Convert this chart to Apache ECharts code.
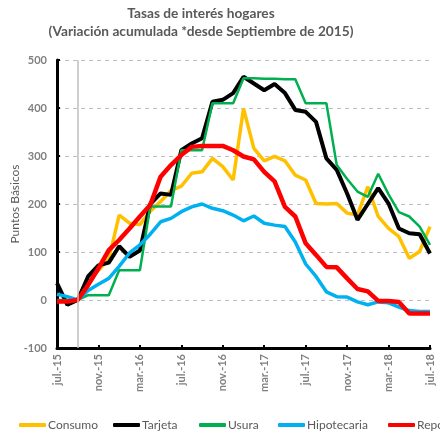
<!DOCTYPE html>
<html>
<head>
<meta charset="utf-8">
<script src="https://cdn.jsdelivr.net/npm/echarts@6/dist/echarts.min.js"></script>
<style>
  html, body { margin: 0; padding: 0; background: #fff; }
  #chart { width: 440px; height: 434px; }
</style>
</head>
<body>
<div id="chart"></div>
<script>
// Monthly, jul-15 .. jul-18 (basis points, accumulated since sep-15)
const months = [
  'jul.-15', 'ago.-15', 'sep.-15', 'oct.-15', 'nov.-15', 'dic.-15',
  'ene.-16', 'feb.-16', 'mar.-16', 'abr.-16', 'may.-16', 'jun.-16',
  'jul.-16', 'ago.-16', 'sep.-16', 'oct.-16', 'nov.-16', 'dic.-16',
  'ene.-17', 'feb.-17', 'mar.-17', 'abr.-17', 'may.-17', 'jun.-17',
  'jul.-17', 'ago.-17', 'sep.-17', 'oct.-17', 'nov.-17', 'dic.-17',
  'ene.-18', 'feb.-18', 'mar.-18', 'abr.-18', 'may.-18', 'jun.-18',
  'jul.-18'
];
const consumo = [-2, -2, 0, 40, 62, 85, 177, 160, 157, 185, 205, 228, 237, 264, 267, 295, 278, 250,
  399, 316, 290, 299, 290, 260, 250, 201, 200, 201, 181, 177, 236, 174, 149, 132, 87, 101, 153];
const tarjeta = [35, -10, 0, 49, 72, 78, 112, 90, 103, 200, 222, 219, 312, 326, 337, 413, 417, 431,
  465, 451, 437, 450, 431, 396, 392, 371, 295, 271, 222, 167, 200, 233, 201, 149, 139, 137, 97];
const usura = [0, 0, 0, 10, 10, 10, 62, 62, 62, 195, 195, 195, 312, 312, 312, 410, 410, 410,
  462, 462, 461, 461, 460, 460, 410, 410, 410, 281, 252, 226, 215, 263, 220, 183, 174, 153, 115];
const hipotecaria = [12, 7, 0, 20, 33, 45, 70, 98, 115, 137, 163, 170, 184, 194, 200, 191, 186, 177,
  165, 175, 160, 156, 153, 121, 75, 49, 17, 7, 6, -4, -10, -4, -6, -15, -22, -24, -24];
const repo = [-3, -3, 0, 31, 66, 104, 125, 149, 174, 198, 257, 281, 302, 319, 321, 321, 321, 312,
  299, 293, 267, 247, 194, 174, 118, 94, 69, 68, 45, 23, 18, -2, -2, -4, -28, -28, -28];

const names = ['Consumo', 'Tarjeta', 'Usura', 'Hipotecaria', 'Repo'];

const FONT = 'Lato, "Open Sans", sans-serif';
const GREY = '#595959';

const line = (name, data, color, width) => ({
  name, type: 'line', data, symbol: 'none', smooth: false,
  lineStyle: { color, width }, itemStyle: { color },
  emphasis: { disabled: true }
});

const series = [
  line(names[0], consumo, '#FFC000', 3.5),
  line(names[1], tarjeta, '#000000', 4),
  line(names[2], usura, '#00B050', 2.5),
  line(names[3], hipotecaria, '#00B0F0', 3.5),
  line(names[4], repo, '#FF0000', 4.5)
];
// reference month (sep-15) marker
series[0].markLine = {
  silent: true, symbol: 'none', label: { show: false },
  lineStyle: { color: '#bfbfbf', width: 1.5, type: 'solid' },
  data: [{ xAxis: 'sep.-15' }]
};

// one legend per item so the row can run off the right edge like the original
const legendLeft = [14, 108, 194, 273, 383];
const legend = names.map((n, i) => ({
  top: 414, left: legendLeft[i], icon: 'roundRect', itemWidth: 27, itemHeight: 4,
  textStyle: { fontFamily: FONT, fontSize: 12, color: GREY, padding: [0, 0, 0, -3] },
  data: [n]
}));

const chart = echarts.init(document.getElementById('chart'), null, { renderer: 'canvas' });
chart.setOption({
  animation: false,
  graphic: [
    { type: 'text', x: 201, y: 14, style: { text: 'Tasas de interés hogares', textAlign: 'center', textVerticalAlign: 'middle',
      fontFamily: FONT, fontSize: 13.7, fontWeight: 'bold', fill: GREY } },
    { type: 'text', x: 201, y: 32, style: { text: '(Variación acumulada *desde Septiembre de 2015)', textAlign: 'center', textVerticalAlign: 'middle',
      fontFamily: FONT, fontSize: 13.7, fontWeight: 'bold', fill: GREY } }
  ],
  grid: { left: 57, right: 10, top: 60, bottom: 86, containLabel: false, outerBoundsMode: 'none' },
  legend,
  xAxis: {
    type: 'category', data: months, boundaryGap: false,
    axisLine: { onZero: false, lineStyle: { color: '#000', width: 3 } },
    axisTick: { inside: true, length: 3, interval: 3, lineStyle: { color: '#000', width: 2 } },
    axisLabel: { interval: 3, rotate: 90, margin: 6, fontFamily: FONT, fontSize: 11, fontWeight: 'bold', color: '#7f7f7f' },
    splitLine: { show: false }
  },
  yAxis: {
    type: 'value', min: -100, max: 500, interval: 100,
    name: 'Puntos Básicos', nameLocation: 'middle', nameGap: 36, nameRotate: 90, nameMoveOverlap: false,
    nameTextStyle: { fontFamily: FONT, fontSize: 12, color: GREY },
    axisLine: { show: true, lineStyle: { color: '#000', width: 3 } },
    axisTick: { show: true, inside: true, length: 3, lineStyle: { color: '#000', width: 2 } },
    axisLabel: { margin: 10, fontFamily: FONT, fontSize: 11, fontWeight: 'bold', color: '#7f7f7f' },
    splitLine: { lineStyle: { color: '#bfbfbf', type: [4, 4], width: 1 } }
  },
  series
});
</script>
</body>
</html>
